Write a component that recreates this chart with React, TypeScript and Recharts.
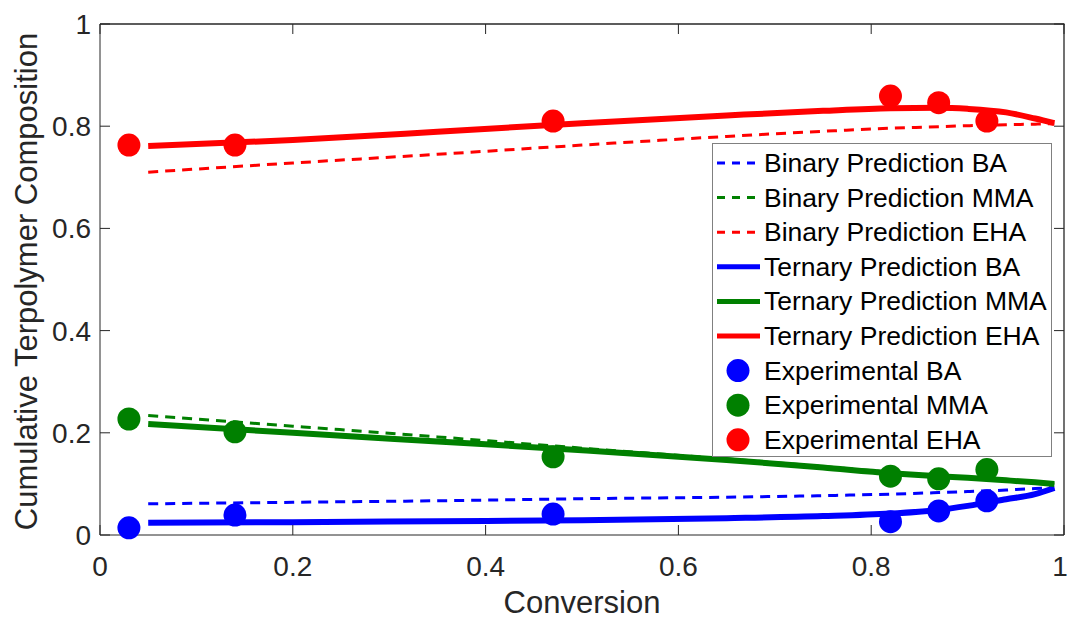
import {
  ComposedChart,
  Line,
  Scatter,
  XAxis,
  YAxis,
  Legend,
} from "recharts";

// experimental conversions and compositions
const convExp = [0.03, 0.14, 0.47, 0.82, 0.87, 0.92];
const expBA = [0.014, 0.039, 0.041, 0.026, 0.047, 0.067];
const expMMA = [0.227, 0.202, 0.153, 0.115, 0.11, 0.128];
const expEHA = [0.763, 0.763, 0.81, 0.859, 0.846, 0.81];

// model predictions
const convPred = [0.05, 0.2, 0.35, 0.5, 0.65, 0.75, 0.82, 0.87, 0.9, 0.94, 0.97, 0.99];
const binBA = [0.061, 0.064, 0.067, 0.071, 0.074, 0.077, 0.08, 0.083, 0.085, 0.088, 0.091, 0.093];
const binMMA = [0.234, 0.213, 0.192, 0.17, 0.149, 0.134, 0.123, 0.116, 0.112, 0.107, 0.103, 0.1];
const binEHA = [0.71, 0.728, 0.745, 0.763, 0.78, 0.79, 0.796, 0.799, 0.801, 0.803, 0.804, 0.805];
const terBA = [0.024, 0.025, 0.027, 0.029, 0.033, 0.037, 0.042, 0.049, 0.057, 0.07, 0.08, 0.092];
const terMMA = [0.217, 0.2, 0.183, 0.166, 0.147, 0.132, 0.121, 0.115, 0.112, 0.107, 0.103, 0.1];
const terEHA = [0.761, 0.773, 0.789, 0.806, 0.821, 0.83, 0.835, 0.836, 0.834, 0.827, 0.815, 0.806];

const ticks = [0, 0.2, 0.4, 0.6, 0.8, 1];

const BLUE = "#0000ff";
const GREEN = "#008000";
const RED = "#ff0000";
const AXIS = "#262626";
const FONT = "'Liberation Sans', Arial, Helvetica, sans-serif";

const W = 1067;
const H = 617;
const M = { top: 24, right: 3, bottom: 0, left: 0 };
const Y_AXIS_W = 100;
const X_AXIS_H = 82;
// plot rectangle, derived from the layout constants above
const plot = {
  left: M.left + Y_AXIS_W,
  top: M.top,
  right: W - M.right,
  bottom: H - M.bottom - X_AXIS_H,
};

const zip = (xs: number[], ys: number[]) => xs.map((x, i) => ({ x, y: ys[i] }));

const legendItems = [
  { name: "Binary Prediction BA", color: BLUE, kind: "dash" },
  { name: "Binary Prediction MMA", color: GREEN, kind: "dash" },
  { name: "Binary Prediction EHA", color: RED, kind: "dash" },
  { name: "Ternary Prediction BA", color: BLUE, kind: "solid" },
  { name: "Ternary Prediction MMA", color: GREEN, kind: "solid" },
  { name: "Ternary Prediction EHA", color: RED, kind: "solid" },
  { name: "Experimental BA", color: BLUE, kind: "dot" },
  { name: "Experimental MMA", color: GREEN, kind: "dot" },
  { name: "Experimental EHA", color: RED, kind: "dot" },
];

// top/right edges of the axes box with inward ticks, plus the legend box
function Overlay() {
  const pw = plot.right - plot.left;
  const ph = plot.bottom - plot.top;
  const rowH = 34.6;
  const lx = 712;
  const ly = 143;
  return (
    <svg width={W} height={H} style={{ display: "block", pointerEvents: "none" }}>
      <line x1={plot.left} x2={plot.right + 0.5} y1={plot.top} y2={plot.top} stroke={AXIS} strokeWidth={1.3} />
      <line x1={plot.right} x2={plot.right} y1={plot.top} y2={plot.bottom} stroke={AXIS} strokeWidth={1.3} />
      {ticks.map((t) => (
        <line key={`tx${t}`} x1={plot.left + t * pw} x2={plot.left + t * pw} y1={plot.top} y2={plot.top + 10} stroke={AXIS} strokeWidth={1} />
      ))}
      {ticks.map((t) => (
        <line key={`ty${t}`} x1={plot.right - 10} x2={plot.right} y1={plot.bottom - t * ph} y2={plot.bottom - t * ph} stroke={AXIS} strokeWidth={1} />
      ))}
      <g transform={`translate(${lx}, ${ly})`}>
        <rect x={0.5} y={0.5} width={339} height={313} fill="#fff" stroke="#808080" strokeWidth={1} />
        {legendItems.map((it, i) => {
          const cy = 20 + i * rowH;
          return (
            <g key={it.name}>
              {it.kind === "dash" && (
                <line x1={5} x2={48} y1={cy} y2={cy} stroke={it.color} strokeWidth={3} strokeDasharray="8 7" />
              )}
              {it.kind === "solid" && (
                <line x1={5} x2={48} y1={cy} y2={cy} stroke={it.color} strokeWidth={5} />
              )}
              {it.kind === "dot" && <circle cx={26} cy={cy} r={11.5} fill={it.color} />}
              <text x={52} y={cy} dominantBaseline="central" fontSize={26.5} fill="#000" fontFamily={FONT}>
                {it.name}
              </text>
            </g>
          );
        })}
      </g>
    </svg>
  );
}

function YLabel(props: any) {
  const vb = props.viewBox || { x: 0, y: 24, width: 100, height: 511 };
  const cx = vb.x + 37;
  const cy = vb.y + vb.height / 2 + 2;
  return (
    <text transform={`translate(${cx}, ${cy}) rotate(-90)`} textAnchor="middle" fontSize={31} fill={AXIS} fontFamily={FONT}>
      Cumulative Terpolymer Composition
    </text>
  );
}

const dot = (color: string) => (p: any) => <circle cx={p.cx} cy={p.cy} r={11.5} fill={color} />;

const binProps = { type: "monotone" as const, strokeWidth: 3, strokeDasharray: "10 7", dot: false, activeDot: false, isAnimationActive: false };
const terProps = { type: "monotone" as const, strokeWidth: 6, dot: false, activeDot: false, isAnimationActive: false };

export default function App() {
  const tickStyle = { fontSize: 28, fill: AXIS, fontFamily: FONT };
  return (
    <div style={{ position: "absolute", left: 0, top: 0, width: W, height: H, background: "#fff", fontFamily: FONT }}>
      <ComposedChart width={W} height={H} margin={M}>
        <XAxis
          dataKey="x"
          type="number"
          domain={[0, 1]}
          ticks={ticks}
          height={X_AXIS_H}
          tickSize={-10}
          tickMargin={31}
          tick={tickStyle}
          stroke={AXIS}
          label={{ value: "Conversion", position: "insideBottom", offset: 4, fontSize: 31, fill: AXIS }}
        />
        <YAxis
          dataKey="y"
          type="number"
          domain={[0, 1]}
          ticks={ticks}
          width={Y_AXIS_W}
          tickSize={-10}
          tickMargin={19}
          tick={tickStyle}
          stroke={AXIS}
          label={<YLabel />}
        />

        <Line data={zip(convPred, binBA)} dataKey="y" stroke={BLUE} {...binProps} />
        <Line data={zip(convPred, binMMA)} dataKey="y" stroke={GREEN} {...binProps} />
        <Line data={zip(convPred, binEHA)} dataKey="y" stroke={RED} {...binProps} />
        <Line data={zip(convPred, terBA)} dataKey="y" stroke={BLUE} {...terProps} />
        <Line data={zip(convPred, terMMA)} dataKey="y" stroke={GREEN} {...terProps} />
        <Line data={zip(convPred, terEHA)} dataKey="y" stroke={RED} {...terProps} />

        <Scatter data={zip(convExp, expBA)} dataKey="y" fill={BLUE} shape={dot(BLUE)} isAnimationActive={false} />
        <Scatter data={zip(convExp, expMMA)} dataKey="y" fill={GREEN} shape={dot(GREEN)} isAnimationActive={false} />
        <Scatter data={zip(convExp, expEHA)} dataKey="y" fill={RED} shape={dot(RED)} isAnimationActive={false} />

        <Legend
          layout="horizontal"
          verticalAlign="middle"
          align="center"
          wrapperStyle={{ position: "absolute", left: 0, top: 0, width: W, height: H, pointerEvents: "none" }}
          content={() => <Overlay />}
        />
      </ComposedChart>
    </div>
  );
}
